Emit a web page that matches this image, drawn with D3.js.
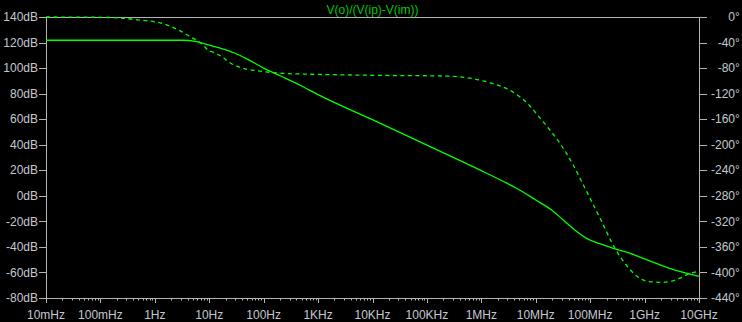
<!DOCTYPE html>
<html>
<head>
<meta charset="utf-8">
<script src="https://cdn.jsdelivr.net/npm/d3@7/dist/d3.min.js"></script>
<style>
  html, body { margin: 0; padding: 0; background: #000; overflow: hidden; }
  svg { display: block; }
  text { font-family: "Liberation Sans", Arial, sans-serif; font-size: 12px; }
</style>
</head>
<body>
<svg id="chart" width="742" height="322"></svg>
<script>
// Open-loop gain V(o)/(V(ip)-V(im)) — Bode plot (magnitude + phase)
const title = "V(o)/(V(ip)-V(im))";

// Magnitude trace (solid): frequency in Hz, gain in dB
const magFreq = [0.01, 1, 3.3, 5.5, 7.5, 10, 17, 30, 50, 100, 200, 500, 1e3, 1e4, 1e5, 1e6, 3e6, 4.46e6, 1e7, 1.96e7, 3.2e7, 5.65e7, 8.6e7, 1.5e8, 2.6e8, 5e8, 1e9, 3e9, 1e10];
const magDb   = [121.8, 121.8, 121.8, 120.9, 119.5, 118, 115.3, 111.6, 107, 100, 94, 86, 79.2, 59.6, 39.7, 19.7, 9.7, 5.9, -3.3, -11.1, -18.9, -28, -33.3, -37.5, -41, -44.5, -49.3, -57, -63];

// Phase trace (dotted): frequency in Hz, phase in degrees
const phFreq = [0.01, 0.1, 0.23, 0.54, 1.0, 1.54, 2.34, 3.29, 4.43, 5.47, 7.67, 9.48, 11.7, 17.1, 24, 33.7, 49.3, 75.3, 131, 247, 465, 1.02e4, 1.97e5, 5.45e5, 1.07e6, 1.6e6, 2.2e6, 3.4e6, 5.1e6, 7.83e6, 1.1e7, 1.61e7, 2.07e7, 2.79e7, 3.75e7, 4.9e7, 7.46e7, 1.14e8, 1.74e8, 2.48e8, 3.53e8, 5.38e8, 7.14e8, 1.26e9, 2.2e9, 4.47e9, 6.82e9, 1e10];
const phDeg  = [0, -0.5, -1.5, -5, -7.5, -11.4, -17.7, -24, -30.8, -35, -43.8, -51.7, -55, -62.2, -71.6, -77.8, -81.9, -84.1, -86.6, -88.5, -89.2, -91.3, -92.4, -95, -100, -104, -108, -115, -125, -139.4, -154.4, -171.3, -183, -197.8, -214.8, -232.1, -262.6, -293.9, -325.2, -352.8, -374.9, -395.2, -405.7, -414.5, -415.5, -409, -401.5, -398.5];

// Axis ticks
const freqTicks = [1e-2, 1e-1, 1, 1e1, 1e2, 1e3, 1e4, 1e5, 1e6, 1e7, 1e8, 1e9, 1e10];
const freqLabels = ["10mHz", "100mHz", "1Hz", "10Hz", "100Hz", "1KHz", "10KHz", "100KHz", "1MHz", "10MHz", "100MHz", "1GHz", "10GHz"];
const dbTicks = [140, 120, 100, 80, 60, 40, 20, 0, -20, -40, -60, -80];
const degTicks = [0, -40, -80, -120, -160, -200, -240, -280, -320, -360, -400, -440];

const svg = d3.select("#chart");
const W = 742, H = 322;
const m = { left: 46, right: 699, top: 17, bottom: 298 };

const axisColor = "#b4b4b4";
const labelColor = "#c4c8d0";
const traceColor = "#00ff00";

svg.append("rect").attr("width", W).attr("height", H).attr("fill", "#000");

const x = d3.scaleLog().domain([1e-2, 1e10]).range([m.left, m.right]);
const yDb = d3.scaleLinear().domain([-80, 140]).range([m.bottom, m.top]);
const yDeg = d3.scaleLinear().domain([-440, 0]).range([m.bottom, m.top]);

// Title
svg.append("text")
  .attr("x", (m.left + m.right) / 2)
  .attr("y", 14)
  .attr("text-anchor", "middle")
  .attr("fill", "#00c800")
  .text(title);

// Plot frame
svg.append("rect")
  .attr("x", m.left + 0.5).attr("y", m.top + 0.5)
  .attr("width", m.right - m.left).attr("height", m.bottom - m.top)
  .attr("fill", "none").attr("stroke", axisColor).attr("stroke-width", 1);

// Left axis (dB)
const gL = svg.append("g");
dbTicks.forEach(d => {
  const yy = Math.round(yDb(d)) + 0.5;
  gL.append("line").attr("x1", m.left - 7).attr("x2", m.left)
    .attr("y1", yy).attr("y2", yy).attr("stroke", axisColor);
  gL.append("text").attr("x", 38).attr("y", yDb(d))
    .attr("dy", "0.35em").attr("text-anchor", "end")
    .attr("fill", labelColor).text(d + "dB");
});

// Right axis (degrees)
const gR = svg.append("g");
degTicks.forEach(d => {
  const yy = Math.round(yDeg(d)) + 0.5;
  gR.append("line").attr("x1", m.right + 1).attr("x2", m.right + 8)
    .attr("y1", yy).attr("y2", yy).attr("stroke", axisColor);
  gR.append("text").attr("x", 735).attr("y", yDeg(d))
    .attr("dy", "0.35em").attr("text-anchor", "end")
    .attr("fill", labelColor).text(d);
  gR.append("text").attr("x", 735).attr("y", yDeg(d))
    .attr("dy", "0.35em").attr("text-anchor", "start")
    .attr("fill", labelColor).text("°");
});

// Bottom axis (log frequency) with minor ticks
const gB = svg.append("g");
freqTicks.forEach((f, i) => {
  const xx = Math.round(x(f)) + 0.5;
  gB.append("line").attr("x1", xx).attr("x2", xx)
    .attr("y1", m.bottom).attr("y2", m.bottom + 5).attr("stroke", axisColor);
  gB.append("text").attr("x", x(f)).attr("y", 319)
    .attr("text-anchor", "middle").attr("fill", labelColor).text(freqLabels[i]);
  if (i < freqTicks.length - 1) {
    for (let k = 2; k <= 9; k++) {
      const mx = Math.round(x(f * k)) + 0.5;
      gB.append("line").attr("x1", mx).attr("x2", mx)
        .attr("y1", m.bottom).attr("y2", m.bottom + 2.5).attr("stroke", axisColor);
    }
  }
});

// Traces
const magData = magFreq.map((f, i) => [f, magDb[i]]);
const phData = phFreq.map((f, i) => [f, phDeg[i]]);

const magLine = d3.line().x(d => x(d[0])).y(d => yDb(d[1])).curve(d3.curveMonotoneX);
const phLine = d3.line().x(d => x(d[0])).y(d => yDeg(d[1])).curve(d3.curveMonotoneX);

svg.append("path").datum(phData).attr("d", phLine)
  .attr("fill", "none").attr("stroke", traceColor).attr("stroke-width", 1.3)
  .attr("stroke-dasharray", "4,3.5");

svg.append("path").datum(magData).attr("d", magLine)
  .attr("fill", "none").attr("stroke", traceColor).attr("stroke-width", 1.3);
</script>
</body>
</html>
